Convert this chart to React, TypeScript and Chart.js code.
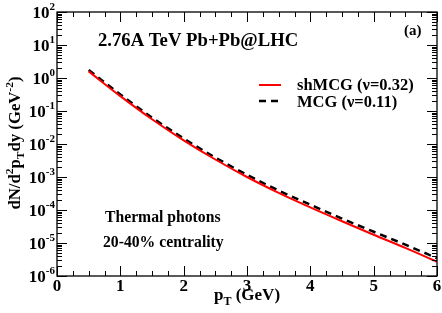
import { useEffect, useRef } from "react";
import { Chart, registerables } from "chart.js";
Chart.register(...registerables);

const pT = [0.5, 1.0, 1.5, 2.0, 2.5, 3.0, 3.5, 4.0, 4.5, 5.0, 5.5, 6.0];
const shMCG = [1.585, 0.282, 0.0562, 0.0129, 0.00339, 0.001, 3.31e-4, 1.2e-4, 4.57e-5, 1.78e-5, 7.08e-6, 2.69e-6];
const MCG = [1.74, 0.316, 0.0631, 0.0148, 0.00389, 0.00117, 3.89e-4, 1.45e-4, 5.5e-5, 2.19e-5, 8.9e-6, 3.47e-6];
const xTickLabels = ["0", "1", "2", "3", "4", "5", "6"];
const yExponents = ["-6", "-5", "-4", "-3", "-2", "-1", "0", "1", "2"];
const seriesNames = ["shMCG (\u03BD=0.32)", "MCG (\u03BD=0.11)"];
const title = "2.76A TeV Pb+Pb@LHC";
const panel = "(a)";
const notes = ["Thermal photons", "20-40% centrality"];

const FONT = "'Liberation Serif', 'DejaVu Serif', serif";

type Seg = { t: string; s: number; dy: number };

function drawRich(ctx: CanvasRenderingContext2D, segs: Seg[], x: number, y: number) {
  let cx = x;
  for (const sg of segs) {
    ctx.font = `bold ${sg.s}px ${FONT}`;
    ctx.fillText(sg.t, cx, y + sg.dy);
    cx += ctx.measureText(sg.t).width;
  }
  return cx - x;
}
function richWidth(ctx: CanvasRenderingContext2D, segs: Seg[]) {
  let w = 0;
  for (const sg of segs) {
    ctx.font = `bold ${sg.s}px ${FONT}`;
    w += ctx.measureText(sg.t).width;
  }
  return w;
}

const framePlugin = {
  id: "frame",
  afterDraw(chart: any) {
    const ctx: CanvasRenderingContext2D = chart.ctx;
    const { left, right, top, bottom } = chart.chartArea;
    const xs = chart.scales.x;
    const ys = chart.scales.y;
    ctx.save();
    ctx.strokeStyle = "#000";
    ctx.fillStyle = "#000";
    ctx.lineWidth = 1.3;
    ctx.strokeRect(left, top, right - left, bottom - top);
    ctx.lineWidth = 1;
    // x ticks
    for (let i = 0; i <= 24; i++) {
      const v = i * 0.25;
      const px = Math.round(xs.getPixelForValue(v)) + 0.5;
      const len = i % 4 === 0 ? 10 : 5;
      ctx.beginPath();
      ctx.moveTo(px, bottom);
      ctx.lineTo(px, bottom - len);
      ctx.moveTo(px, top);
      ctx.lineTo(px, top + len);
      ctx.stroke();
    }
    // y ticks
    for (let e = -6; e <= 2; e++) {
      const py = Math.round(ys.getPixelForValue(Math.pow(10, e))) + 0.5;
      ctx.beginPath();
      ctx.moveTo(left, py);
      ctx.lineTo(left + 10, py);
      ctx.moveTo(right, py);
      ctx.lineTo(right - 10, py);
      ctx.stroke();
      if (e < 2) {
        for (let m = 2; m <= 9; m++) {
          const q = Math.round(ys.getPixelForValue(m * Math.pow(10, e))) + 0.5;
          ctx.beginPath();
          ctx.moveTo(left, q);
          ctx.lineTo(left + 5, q);
          ctx.moveTo(right, q);
          ctx.lineTo(right - 5, q);
          ctx.stroke();
        }
      }
    }
    // x labels
    ctx.textBaseline = "alphabetic";
    ctx.textAlign = "left";
    xTickLabels.forEach((lab, i) => {
      ctx.font = `bold 17px ${FONT}`;
      const w = ctx.measureText(lab).width;
      ctx.fillText(lab, xs.getPixelForValue(i) - w / 2, bottom + 15);
    });
    // y labels
    yExponents.forEach((ex) => {
      const py = ys.getPixelForValue(Math.pow(10, Number(ex)));
      const segs: Seg[] = [
        { t: "10", s: 17, dy: 0 },
        { t: ex, s: 11, dy: -8 },
      ];
      const w = richWidth(ctx, segs);
      drawRich(ctx, segs, 55 - w, py + 6);
    });
    // x title
    {
      const segs: Seg[] = [
        { t: "p", s: 17, dy: 0 },
        { t: "T", s: 12, dy: 5 },
        { t: " (GeV)", s: 17, dy: 0 },
      ];
      const w = richWidth(ctx, segs);
      drawRich(ctx, segs, (left + right) / 2 - w / 2, 300);
    }
    // y title
    {
      const segs: Seg[] = [
        { t: "dN/d", s: 16, dy: 0 },
        { t: "2", s: 11, dy: -7 },
        { t: "p", s: 16, dy: 0 },
        { t: "T", s: 11, dy: 4 },
        { t: "dy (GeV", s: 16, dy: 0 },
        { t: "-2", s: 11, dy: -7 },
        { t: ")", s: 16, dy: 0 },
      ];
      const w = richWidth(ctx, segs);
      const target = 133;
      ctx.save();
      ctx.translate(20, 143);
      ctx.rotate(-Math.PI / 2);
      ctx.scale(target / w, 1);
      drawRich(ctx, segs, -w / 2, 0);
      ctx.restore();
    }
    // annotations
    ctx.font = `bold 18.7px ${FONT}`;
    ctx.fillText(title, 98, 46);
    ctx.font = `bold 15px ${FONT}`;
    ctx.fillText(panel, 404, 35);
    // legend
    ctx.lineWidth = 2;
    ctx.strokeStyle = "#ff0000";
    ctx.beginPath();
    ctx.moveTo(259, 85);
    ctx.lineTo(281, 85);
    ctx.stroke();
    ctx.strokeStyle = "#000";
    ctx.lineWidth = 2.5;
    ctx.setLineDash([7, 5]);
    ctx.beginPath();
    ctx.moveTo(259, 101);
    ctx.lineTo(281, 101);
    ctx.stroke();
    ctx.setLineDash([]);
    ctx.font = `bold 16.5px ${FONT}`;
    ctx.fillText(seriesNames[0], 297, 90);
    ctx.fillText(seriesNames[1], 297, 107);
    ctx.font = `bold 15.7px ${FONT}`;
    ctx.fillText(notes[0], 105, 222);
    ctx.fillText(notes[1], 103, 247);
    ctx.restore();
  },
};

export default function App() {
  const ref = useRef<HTMLCanvasElement>(null);
  useEffect(() => {
    document.body.style.margin = "0";
    const chart = new Chart(ref.current!, {
      type: "line",
      data: {
        datasets: [
          {
            label: seriesNames[0],
            data: pT.map((x, i) => ({ x, y: shMCG[i] })),
            borderColor: "#ff0000",
            borderWidth: 2,
            pointRadius: 0,
            cubicInterpolationMode: "monotone",
          },
          {
            label: seriesNames[1],
            data: pT.map((x, i) => ({ x, y: MCG[i] })),
            borderColor: "#000000",
            borderWidth: 2.5,
            borderDash: [7, 5],
            pointRadius: 0,
            cubicInterpolationMode: "monotone",
          },
        ],
      },
      options: {
        animation: false,
        responsive: false,
        devicePixelRatio: 1,
        layout: { padding: { top: 12, right: 5, left: 0, bottom: 0 } },
        plugins: { legend: { display: false }, tooltip: { enabled: false } },
        scales: {
          x: {
            type: "linear",
            min: 0,
            max: 6,
            ticks: { display: false },
            grid: { display: false },
            border: { display: false },
            afterFit: (s: any) => {
              s.height = 37;
            },
          },
          y: {
            type: "logarithmic",
            min: 1e-6,
            max: 100,
            ticks: { display: false },
            grid: { display: false },
            border: { display: false },
            afterFit: (s: any) => {
              s.width = 57;
            },
          },
        },
      } as any,
      plugins: [framePlugin],
    });
    return () => chart.destroy();
  }, []);
  return (
    <div style={{ position: "absolute", left: 0, top: 0, width: 442, height: 313, background: "#fff" }}>
      <canvas ref={ref} width={442} height={313} style={{ width: 442, height: 313 }} />
    </div>
  );
}
